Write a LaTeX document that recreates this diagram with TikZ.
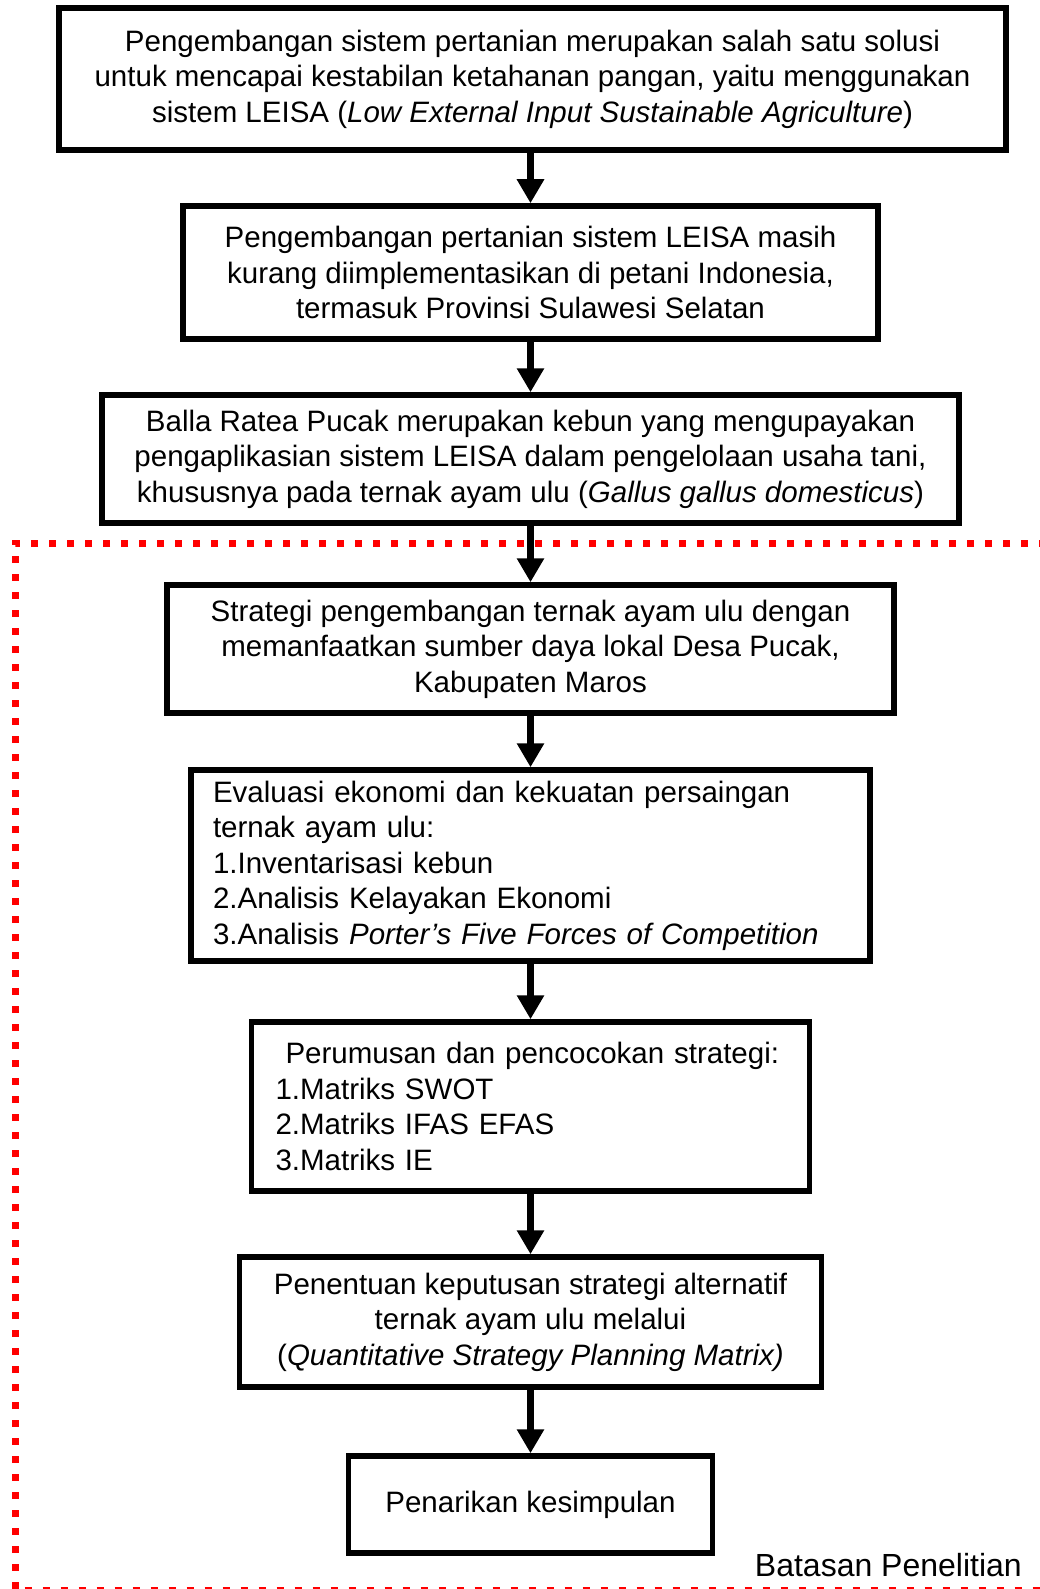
\documentclass[tikz,border=0pt]{standalone}
\usepackage{fontspec}
\setmainfont{Liberation Sans}
\usetikzlibrary{arrows.meta}

\tikzset{
  flowbox/.style={draw, line width=5.5pt, inner sep=0pt, align=center,
    font=\fontsize{29.5}{35.5}\selectfont},
  listbox/.style={flowbox, align=left},
  flowarrow/.style={line width=6.5pt, -{Triangle[width=26pt,length=24pt]}},
  boundary/.style={draw=red, line width=7pt, dash pattern=on 7pt off 11pt}
}

\begin{document}
\begin{tikzpicture}[x=1pt, y=-1pt]
  \useasboundingbox (0,0) rectangle (1040,1589);
  % research boundary
  \draw[boundary] (1046,543) -- (15,543) -- (15,1590.5) -- (1046,1590.5);
  \node[anchor=base east, inner sep=0pt, font=\fontsize{32}{38}\selectfont] (batas) at (1022,1576) {Batasan Penelitian};

  \node[flowbox, minimum width=947, minimum height=142] (leisa) at (532.5,79)
    {Pengembangan sistem pertanian merupakan salah satu solusi\\
     untuk mencapai kestabilan ketahanan pangan, yaitu menggunakan\\
     sistem LEISA (\textit{Low External Input Sustainable Agriculture})};
  \node[flowbox, minimum width=695, minimum height=133] (kurang) at (530.5,272.5)
    {Pengembangan pertanian sistem LEISA masih\\
     kurang diimplementasikan di petani Indonesia,\\
     termasuk Provinsi Sulawesi Selatan};
  \node[flowbox, minimum width=857, minimum height=128] (balla) at (530.5,459)
    {Balla Ratea Pucak merupakan kebun yang mengupayakan\\
     pengaplikasian sistem LEISA dalam pengelolaan usaha tani,\\
     khususnya pada ternak ayam ulu (\textit{Gallus gallus domesticus})};
  \node[flowbox, minimum width=727, minimum height=128] (strategi) at (530.5,649)
    {Strategi pengembangan ternak ayam ulu dengan\\
     memanfaatkan sumber daya lokal Desa Pucak,\\
     Kabupaten Maros};
  \node[listbox, minimum width=679, minimum height=191, text width=635] (evaluasi) at (530.5,865.5)
    {Evaluasi ekonomi dan kekuatan persaingan\\
     ternak ayam ulu:\\
     1.Inventarisasi kebun\\
     2.Analisis Kelayakan Ekonomi\\
     3.Analisis \textit{Porter's Five Forces of Competition}};
  \node[listbox, minimum width=558, minimum height=169, text width=510] (perumusan) at (530.5,1106.5)
    {\hspace*{10pt}Perumusan dan pencocokan strategi:\\
     1.Matriks SWOT\\
     2.Matriks IFAS EFAS\\
     3.Matriks IE};
  \node[flowbox, minimum width=582, minimum height=130] (qspm) at (530.5,1322)
    {Penentuan keputusan strategi alternatif\\
     ternak ayam ulu melalui\\
     (\textit{Quantitative Strategy Planning Matrix)}};
  \node[flowbox, minimum width=364, minimum height=97] (simpulan) at (530.5,1504.5)
    {Penarikan kesimpulan};

  \draw[flowarrow] (kurang.north |- leisa.south) -- (kurang.north);
  \draw[flowarrow] (kurang.south) -- (balla.north);
  \draw[flowarrow] (balla.south) -- (strategi.north);
  \draw[flowarrow] (strategi.south) -- (evaluasi.north);
  \draw[flowarrow] (evaluasi.south) -- (perumusan.north);
  \draw[flowarrow] (perumusan.south) -- (qspm.north);
  \draw[flowarrow] (qspm.south) -- (simpulan.north);
\end{tikzpicture}
\end{document}
